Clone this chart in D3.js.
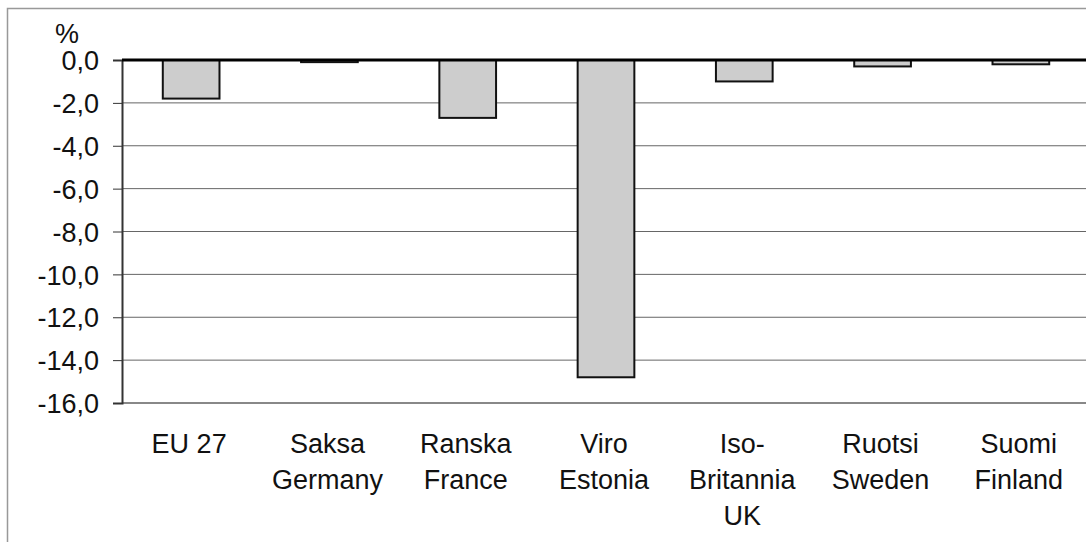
<!DOCTYPE html>
<html><head><meta charset="utf-8">
<script src="https://cdn.jsdelivr.net/npm/d3@7"></script>
<style>body{margin:0;background:#fff}svg{display:block}text{font-family:"Liberation Sans",Arial,sans-serif;fill:#111}</style>
</head><body><svg id="c" width="1086" height="542"></svg>
<script>
const categories = [["EU 27"],["Saksa","Germany"],["Ranska","France"],["Viro","Estonia"],["Iso-","Britannia","UK"],["Ruotsi","Sweden"],["Suomi","Finland"]];
const values = [-1.8, -0.1, -2.7, -14.8, -1.0, -0.3, -0.2];
const yTicks = [0,-2,-4,-6,-8,-10,-12,-14,-16];

const svg = d3.select("#c");
const L = 122, R = 1090, T = 60, B = 403;
const x = d3.scaleBand().domain(d3.range(categories.length)).range([L, R]).paddingInner(0.59).paddingOuter(0.295);
const y = d3.scaleLinear().domain([0, -16]).range([T, B]);
const fmt = v => d3.format(".1f")(v).replace("−","-").replace(".", ",");

// outer frame
svg.append("rect").attr("x",7.5).attr("y",8.5).attr("width",1200).attr("height",600).attr("fill","none").attr("stroke","#999").attr("stroke-width",1.5);

// gridlines
svg.append("g").selectAll("line").data(yTicks.filter(v=>v<0 && v>-16)).join("line")
  .attr("x1",L).attr("x2",R).attr("y1",d=>y(d)).attr("y2",d=>y(d)).attr("stroke","#666").attr("stroke-width",1);
// bottom axis line
svg.append("line").attr("x1",L).attr("x2",R).attr("y1",y(-16)).attr("y2",y(-16)).attr("stroke","#888").attr("stroke-width",2);

// y axis
const ya = d3.axisLeft(y).tickValues(yTicks).tickSize(9).tickPadding(14).tickFormat(fmt);
const gy = svg.append("g").attr("transform",`translate(${L},0)`).call(ya);
gy.select(".domain").attr("stroke","#333").attr("stroke-width",2);
gy.selectAll(".tick line").attr("stroke","#333").attr("stroke-width",1);
gy.selectAll(".tick text").style("font-size","27px").attr("fill","#111").attr("dy","0.36em");

svg.append("text").attr("x",55).attr("y",43).style("font-size","27px").text("%");

// bars
svg.append("g").selectAll("rect").data(values).join("rect")
  .attr("x",(d,i)=>x(i)).attr("width",x.bandwidth())
  .attr("y",y(0)).attr("height",d=>y(d)-y(0))
  .attr("fill","#cdcdcd").attr("stroke","#111").attr("stroke-width",2);

// zero line
svg.append("line").attr("x1",L).attr("x2",R).attr("y1",y(0)).attr("y2",y(0)).attr("stroke","#000").attr("stroke-width",3);

// x labels
const gx = svg.append("g");
categories.forEach((lines,i)=>{
  const t = gx.append("text").attr("text-anchor","middle").style("font-size","27px");
  lines.forEach((s,j)=>{
    t.append("tspan").attr("x",x(i)+x.bandwidth()/2 - 2).attr("y",453+j*36).text(s);
  });
});
</script></body></html>
